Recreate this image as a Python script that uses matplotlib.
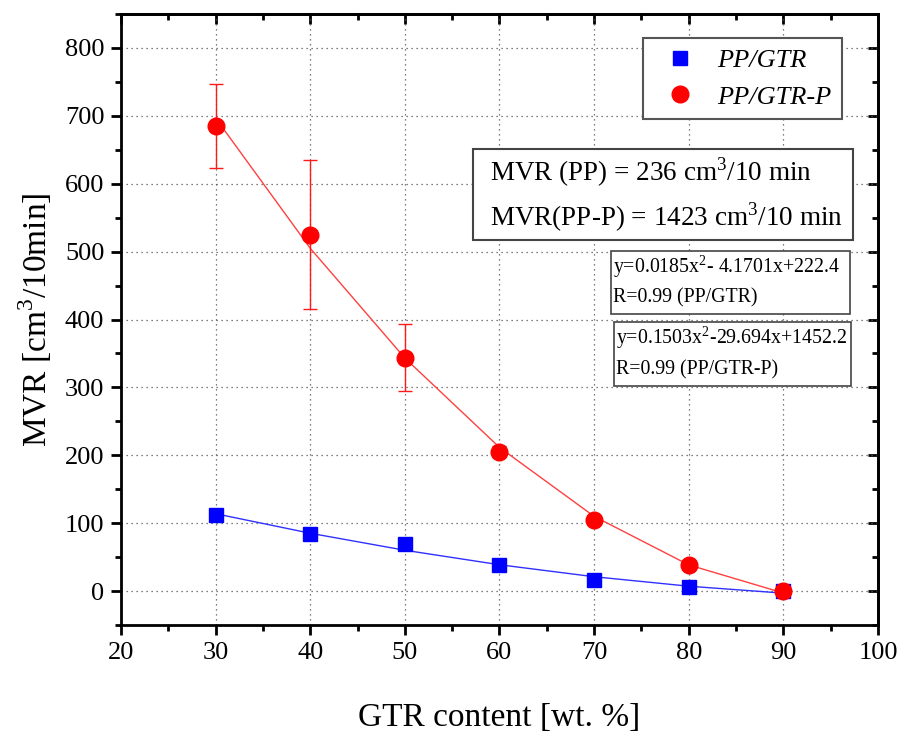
import numpy as np
import matplotlib
matplotlib.use("Agg")
import matplotlib.pyplot as plt
from matplotlib.lines import Line2D
from matplotlib.patches import Rectangle
from matplotlib.ticker import MultipleLocator

plt.rcParams["font.family"] = ["Liberation Serif", "DejaVu Serif"]
plt.rcParams["mathtext.fontset"] = "custom"
plt.rcParams["mathtext.rm"] = "Liberation Serif"

# GTR content [wt. %]
gtr = [30, 40, 50, 60, 70, 80, 90]

# measured MVR [cm3/10 min]
mvr_pp_gtr = [112, 84, 70, 38, 17, 6, 0]
mvr_pp_gtr_p = [685, 525, 344, 205, 105, 38, 0]
err_pp_gtr_p = [62, 110, 50, 8, 6, 3, 2]

# quadratic fit coefficients (a, b, c) for y = a*x^2 + b*x + c
fit_pp_gtr = [0.0185, -4.1701, 222.4]
fit_pp_gtr_p = [0.1503, -29.694, 1452.2]

mvr_pp = 236
mvr_pp_p = 1423


def quad(coef, x):
    x = np.asarray(x, dtype=float)
    return coef[0] * x ** 2 + coef[1] * x + coef[2]


fig = plt.figure(figsize=(8.99, 7.33), dpi=100)
ax = fig.add_axes([0.1346, 0.1473, 0.8420, 0.8336])

# fitted curves
ax.plot(gtr, quad(fit_pp_gtr, gtr), color="#3030ff", lw=1.0, zorder=2)
ax.plot(gtr, quad(fit_pp_gtr_p, gtr), color="#ff4040", lw=1.0, zorder=2)

# measured points
ax.errorbar(gtr, mvr_pp_gtr_p, yerr=err_pp_gtr_p, fmt="none", ecolor="#ff1a1a",
            elinewidth=1.0, capsize=5, capthick=1.0, zorder=3)
ax.plot(gtr, mvr_pp_gtr, "s", color="#0000ff", ms=10, mec="#0000ff", zorder=4)
ax.plot(gtr, mvr_pp_gtr_p, "o", color="#ff0000", ms=12, mec="#ff0000", zorder=5)

ax.set_xlim(20, 100)
ax.set_ylim(-50, 850)
ax.xaxis.set_major_locator(MultipleLocator(10))
ax.xaxis.set_minor_locator(MultipleLocator(5))
ax.yaxis.set_minor_locator(MultipleLocator(50))
ax.set_yticks(np.arange(0, 801, 100))

ax.grid(True, which="major", color="#555555", linestyle=(0, (1, 3)), lw=0.9)
for s in ax.spines.values():
    s.set_linewidth(2.0)

ax.tick_params(which="major", direction="out", length=7, width=2.0, labelsize=19,
               pad=5)
ax.tick_params(which="minor", direction="out", length=4, width=2.0)

# inward ticks on the top and right sides
top = ax.secondary_xaxis("top")
top.xaxis.set_major_locator(MultipleLocator(10))
top.xaxis.set_minor_locator(MultipleLocator(5))
top.tick_params(which="major", direction="in", length=7, width=2.0, labeltop=False)
top.tick_params(which="minor", direction="in", length=4, width=2.0)
right = ax.secondary_yaxis("right")
right.set_yticks(np.arange(0, 801, 100))
right.yaxis.set_minor_locator(MultipleLocator(50))
right.tick_params(which="major", direction="in", length=7, width=2.0, labelright=False)
right.tick_params(which="minor", direction="in", length=4, width=2.0)
for sec in (top, right):
    for s in sec.spines.values():
        s.set_linewidth(2.0)

ax.set_xlabel("GTR content [wt. %]", fontsize=24, labelpad=28)
ax.set_ylabel(r"MVR [cm$^3$/10min]", fontsize=24, labelpad=8)

# legend
handles = [
    Line2D([], [], ls="none", marker="s", ms=10, color="#0000ff"),
    Line2D([], [], ls="none", marker="o", ms=12, color="#ff0000"),
]
leg = ax.legend(handles, ["PP/GTR", "PP/GTR-P"], loc="upper right",
                bbox_to_anchor=(0.9524, 0.9607), fancybox=False, framealpha=1,
                edgecolor="#555555", prop={"style": "italic", "size": 19},
                handletextpad=0.45, borderpad=0.4, labelspacing=0.5,
                handlelength=1.95, borderaxespad=0)
leg.get_frame().set_linewidth(1.5)
leg.set_zorder(6)


def text_box(x0, y0, x1, y1, lines, size, lw, pad):
    ax.add_patch(Rectangle((x0, y0), x1 - x0, y1 - y0, transform=ax.transAxes,
                           facecolor="white", edgecolor="#444444", lw=lw,
                           zorder=6))
    n = len(lines)
    for i, line in enumerate(lines):
        y = y1 - (y1 - y0) * (i + 0.5) / n
        ax.text(x0 + pad, y, line, transform=ax.transAxes, fontsize=size,
                va="center", ha="left", zorder=7)


text_box(0.465, 0.630, 0.967, 0.779,
         [rf"MVR (PP) = {mvr_pp} cm$^3$/10 min",
          rf"MVR(PP-P) = {mvr_pp_p} cm$^3$/10 min"], 19.5, 1.5, 0.022)
text_box(0.647, 0.509, 0.963, 0.612,
         [rf"y={fit_pp_gtr[0]}x$^2$- {abs(fit_pp_gtr[1])}x+{fit_pp_gtr[2]}",
          "R=0.99 (PP/GTR)"], 14.3, 1.2, 0.003)
text_box(0.651, 0.391, 0.964, 0.496,
         [rf"y={fit_pp_gtr_p[0]}x$^2$-{abs(fit_pp_gtr_p[1])}x+{fit_pp_gtr_p[2]}",
          "R=0.99 (PP/GTR-P)"], 14.3, 1.2, 0.003)

fig.savefig("out.png", dpi=100)
